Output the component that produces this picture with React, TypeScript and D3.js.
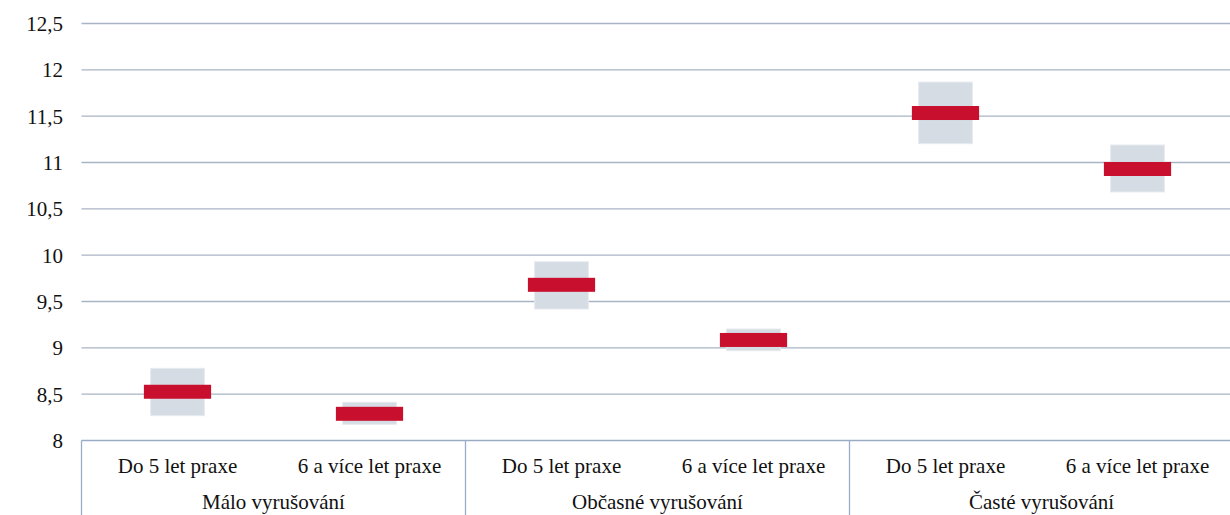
import { useMemo } from "react";
import * as d3 from "d3";

// Mean (red marker) with confidence interval (grey box) per subgroup
const groups = ["Málo vyrušování", "Občasné vyrušování", "Časté vyrušování"];
const subgroups = ["Do 5 let praxe", "6 a více let praxe"];
const means = [8.526, 8.288, 9.68, 9.085, 11.534, 10.93];
const ciLow = [8.268, 8.175, 9.419, 8.969, 11.203, 10.682];
const ciHigh = [8.779, 8.412, 9.929, 9.203, 11.868, 11.189];
const yTicks = [8, 8.5, 9, 9.5, 10, 10.5, 11, 11.5, 12, 12.5];

const W = 1230;
const H = 515;
const M = { top: 23.5, left: 81.5, right: -3.5, axisY: 440.5 };
const FONT = "'Liberation Serif', 'Times New Roman', serif";
const FS = 21;
const GRID = "#a9b3c6";
const AXIS = "#9aabc6";

export default function App() {
  const keys = useMemo(
    () => groups.flatMap((g) => subgroups.map((s) => `${g}|${s}`)),
    []
  );
  const x = d3
    .scaleBand<string>()
    .domain(keys)
    .range([M.left, W - M.right]);
  const y = d3.scaleLinear().domain([8, 12.5]).range([M.axisY, M.top]);
  const fmt = (v: number) => String(v).replace(".", ",");
  const bw = x.bandwidth();
  const gw = bw * subgroups.length;

  return (
    <svg
      width={W}
      height={H}
      style={{ position: "absolute", left: 0, top: 0, background: "#fff" }}
      fontFamily={FONT}
    >
      {yTicks.map((t) => (
        <g key={t}>
          {t > 8 && (
            <line x1={M.left} x2={W} y1={y(t)} y2={y(t)} stroke={GRID} strokeWidth={1.3} />
          )}
          <text x={63} y={y(t)} dy="0.35em" textAnchor="end" fontSize={FS} fill="#111">
            {fmt(t)}
          </text>
        </g>
      ))}

      {/* category axis box */}
      <line x1={M.left} x2={W} y1={M.axisY} y2={M.axisY} stroke={AXIS} strokeWidth={1.3} />
      {groups.map((g, gi) => {
        const gx = M.left + gi * gw;
        return (
          <g key={g}>
            <line x1={gx} x2={gx} y1={M.axisY} y2={H} stroke={AXIS} strokeWidth={1.3} />
            {subgroups.map((s) => (
              <text
                key={s}
                x={x(`${g}|${s}`)! + bw / 2}
                y={466}
                dy="0.35em"
                textAnchor="middle"
                fontSize={FS}
                fill="#111"
              >
                {s}
              </text>
            ))}
            <text x={gx + gw / 2} y={502} dy="0.35em" textAnchor="middle" fontSize={FS} fill="#111">
              {g}
            </text>
          </g>
        );
      })}

      {keys.map((k, i) => {
        const cx = x(k)! + bw / 2;
        const boxW = bw * 0.28;
        const redW = bw * 0.35;
        return (
          <g key={k}>
            <rect
              x={cx - boxW / 2}
              y={y(ciHigh[i])}
              width={boxW}
              height={y(ciLow[i]) - y(ciHigh[i])}
              fill="#d5dce4"
              stroke="#e6eaef"
              strokeWidth={1}
            />
            <rect
              x={cx - redW / 2}
              y={y(means[i]) - 7}
              width={redW}
              height={14}
              fill="#c8102e"
            />
          </g>
        );
      })}
    </svg>
  );
}
